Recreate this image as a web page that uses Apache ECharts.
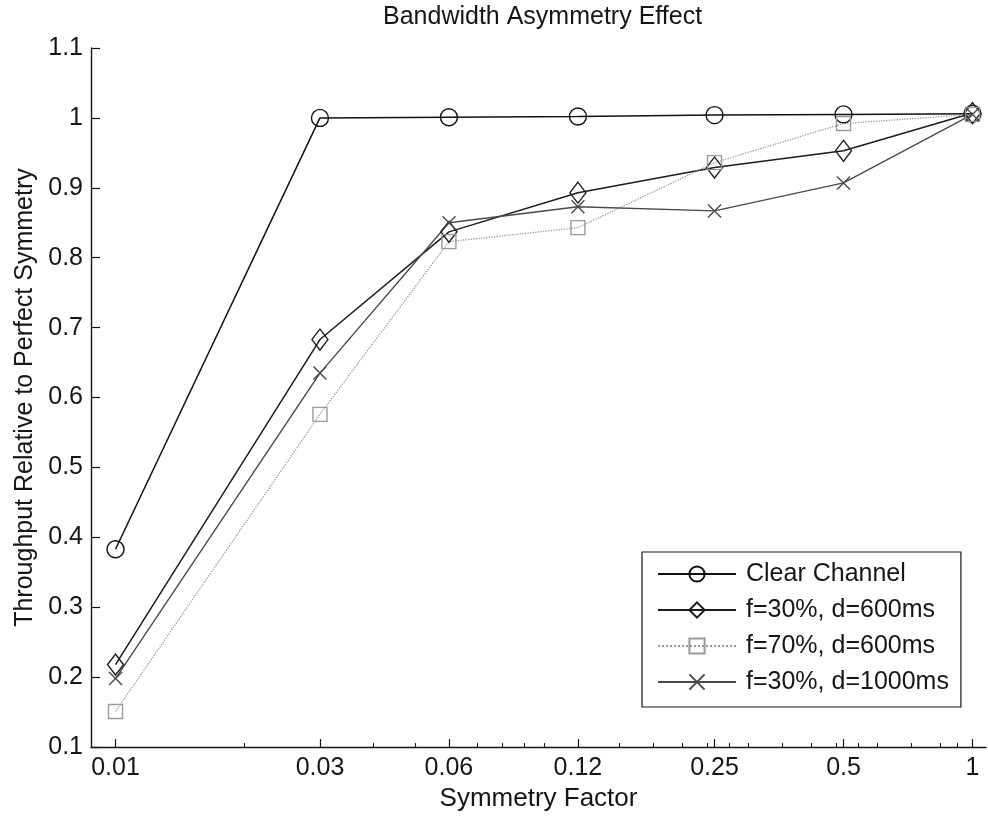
<!DOCTYPE html>
<html>
<head>
<meta charset="utf-8">
<script src="https://cdn.jsdelivr.net/npm/echarts@6/dist/echarts.min.js"></script>
<style>
  html, body { margin: 0; padding: 0; background: #fff; }
  #chart { width: 988px; height: 817px; }
</style>
</head>
<body>
<div id="chart"></div>
<script>
// Symmetry factors (log-spaced x positions) and their tick labels
const symmetryFactors = [0.01, 0.03, 0.06, 0.12, 0.25, 0.5, 1];
const xTickLabels = ['0.01', '0.03', '0.06', '0.12', '0.25', '0.5', '1'];
const xMinorTicks = [0.02, 0.04, 0.05, 0.07, 0.08, 0.09, 0.1, 0.15, 0.18, 0.21, 0.24,
                     0.27, 0.3, 0.36, 0.42, 0.48, 0.54, 0.6, 0.72, 0.84, 0.92];

// Relative throughput for each configuration
const clearChannel = [0.383, 1.000, 1.001, 1.002, 1.004, 1.005, 1.006];
const f30d600      = [0.218, 0.683, 0.837, 0.893, 0.929, 0.953, 1.007];
const f70d600      = [0.151, 0.576, 0.823, 0.843, 0.936, 0.992, 1.005];
const f30d1000     = [0.198, 0.635, 0.850, 0.873, 0.867, 0.907, 1.005];

const seriesNames = ['Clear Channel', 'f=30%, d=600ms', 'f=70%, d=600ms', 'f=30%, d=1000ms'];

const log10 = v => Math.log10(v);
const toPoints = ys => symmetryFactors.map((x, i) => [log10(x), ys[i]]);

const FONT = 'Liberation Sans, Arial, Helvetica, sans-serif';
const INK = '#161616';
const xMin = -2.0572, xMax = 0.0315;

const chart = echarts.init(document.getElementById('chart'), null, { renderer: 'canvas' });

function makeSeries(name, ys, symbol, size, color, lineType, width) {
  return {
    name: name,
    type: 'line',
    data: toPoints(ys),
    symbol: symbol,
    symbolSize: size,
    showSymbol: true,
    lineStyle: { color: color, width: width, type: lineType },
    itemStyle: { color: 'rgba(0,0,0,0)', borderColor: color, borderWidth: 1.4 },
    emphasis: { disabled: true },
    animation: false
  };
}

const option = {
  animation: false,
  backgroundColor: '#fff',
  title: {
    text: 'Bandwidth Asymmetry Effect',
    left: 378,
    top: 0,
    textStyle: { fontFamily: FONT, fontSize: 25, fontWeight: 'normal', color: INK }
  },
  grid: { left: 91, right: 2, top: 48, bottom: 68, containLabel: false },
  legend: {
    orient: 'vertical',
    left: 642,
    top: 552,
    data: seriesNames,
    itemWidth: 78,
    itemHeight: 19,
    itemGap: 8,
    padding: [8, 12, 11, 15],
    borderColor: INK,
    borderWidth: 1.2,
    backgroundColor: '#fff',
    selectedMode: false,
    textStyle: { fontFamily: FONT, fontSize: 25, color: INK, lineHeight: 28, padding: [0, 0, 0, 5] }
  },
  xAxis: [
    {
      type: 'value',
      min: xMin,
      max: xMax,
      name: 'Symmetry Factor',
      nameLocation: 'middle',
      nameGap: 35,
      nameTextStyle: { fontFamily: FONT, fontSize: 26, color: INK },
      axisLine: { show: true, onZero: false, lineStyle: { color: INK, width: 1.4 } },
      axisTick: {
        show: true, inside: true, length: 8,
        customValues: symmetryFactors.map(log10),
        lineStyle: { color: INK, width: 1.2 }
      },
      axisLabel: {
        show: true, margin: 9,
        customValues: symmetryFactors.map(log10),
        fontFamily: FONT, fontSize: 25, color: INK,
        formatter: function (v) {
          for (let i = 0; i < symmetryFactors.length; i++) {
            if (Math.abs(log10(symmetryFactors[i]) - v) < 1e-6) return xTickLabels[i];
          }
          return '';
        }
      },
      splitLine: { show: false }
    },
    {
      type: 'value',
      position: 'bottom',
      min: xMin,
      max: xMax,
      axisLine: { show: false, onZero: false },
      axisTick: {
        show: true, inside: true, length: 4,
        customValues: xMinorTicks.map(log10),
        lineStyle: { color: INK, width: 1.1 }
      },
      axisLabel: { show: false },
      splitLine: { show: false }
    }
  ],
  yAxis: {
    type: 'value',
    min: 0.1,
    max: 1.1,
    interval: 0.1,
    name: 'Throughput Relative to Perfect Symmetry',
    nameLocation: 'middle',
    nameGap: 52,
    nameTextStyle: { fontFamily: FONT, fontSize: 25, color: INK },
    axisLine: { show: true, onZero: false, lineStyle: { color: INK, width: 1.4 } },
    axisTick: { show: true, inside: true, length: 9, lineStyle: { color: INK, width: 1.2 } },
    axisLabel: {
      margin: 8, fontFamily: FONT, fontSize: 25, color: INK,
      formatter: v => String(Math.round(v * 10) / 10)
    },
    splitLine: { show: false }
  },
  series: [
    makeSeries(seriesNames[0], clearChannel, 'circle', 17, '#111111', 'solid', 1.5),
    makeSeries(seriesNames[1], f30d600, 'diamond', [16, 21], '#1c1c1c', 'solid', 1.5),
    makeSeries(seriesNames[2], f70d600, 'rect', 14, '#9a9a9a', 'dotted', 1.3),
    makeSeries(seriesNames[3], f30d1000, 'path://M0,0L10,10M10,0L0,10', 13, '#4a4a4a', 'solid', 1.4)
  ]
};

chart.setOption(option);
</script>
</body>
</html>
